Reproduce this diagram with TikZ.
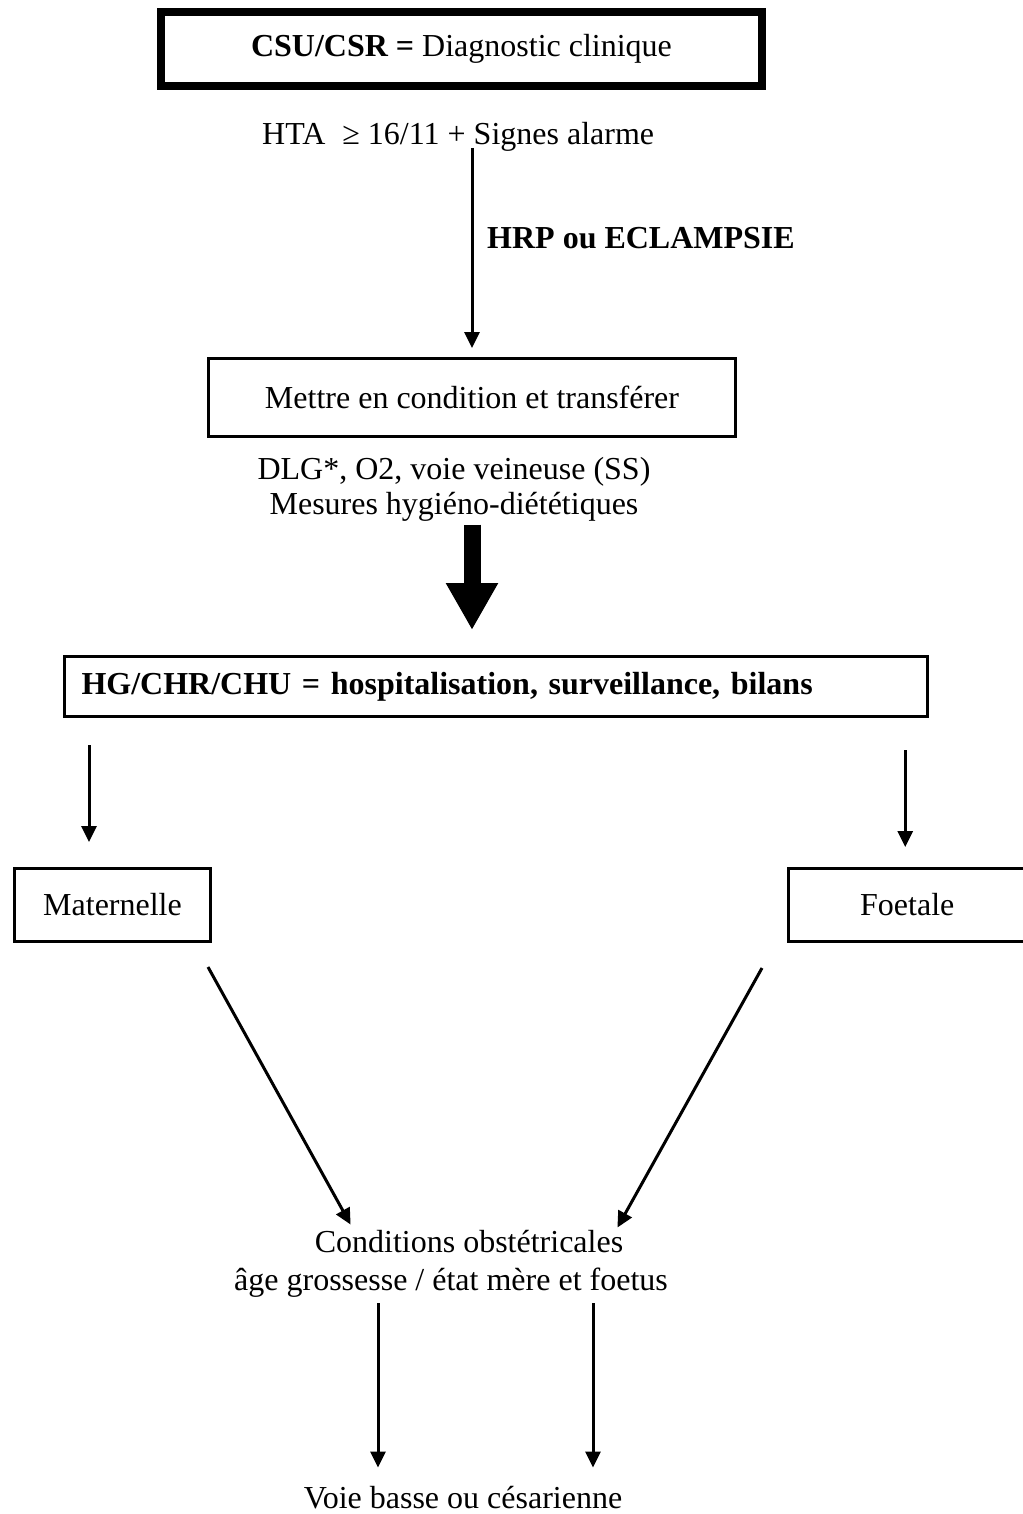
\documentclass[tikz,border=0pt]{standalone}
\usepackage{fontspec}
\setmainfont{Liberation Serif}
\usetikzlibrary{arrows.meta,calc}
\begin{document}
\begin{tikzpicture}[x=1pt,y=-1pt,
  every node/.style={font=\fontsize{32}{35}\selectfont, inner sep=0pt},
  thickbox/.style={draw, line width=8pt},
  box/.style={draw, line width=3pt},
  arr/.style={line width=3pt, -{Triangle[width=15pt,length=16pt]}},
  bigarr/.style={line width=17pt, -{Triangle[width=49pt,length=47pt]}},
]
\useasboundingbox (0,0) rectangle (1022,1514);

% --- boxes and text blocks ---
\node[thickbox, minimum width=601pt, minimum height=74pt] (top) at (461.5,49)
  {\textbf{CSU/CSR =} Diagnostic clinique};
\node[anchor=base west] (hta) at (262,145) {HTA\hspace{17pt}≥ 16/11 + Signes alarme};
\node[box, minimum width=527pt, minimum height=78pt] (box2) at (472,397.5)
  {Mettre en condition et transférer};
\node[anchor=north, align=center] (care) at (454,457)
  {DLG*, O2, voie veineuse (SS)\\Mesures hygiéno-diététiques};
\node[box, minimum height=60pt, text width=829pt, inner xsep=17pt, align=left]
  (box3) at (496,686.5)
  {\textbf{HG/CHR/CHU = hospitalisation, surveillance, bilans}};
\node[box, minimum width=196pt, minimum height=73pt] (mat) at (112.5,905) {Maternelle};
\node[box, minimum width=237.5pt, minimum height=73pt] (foet) at (907.25,905) {Foetale};
\node[anchor=base] (cond) at (469,1252) {Conditions obstétricales};
\node[anchor=base] (cond2) at (451,1290) {âge grossesse / état mère et foetus};
\node[anchor=base] (voie) at (463,1508) {Voie basse ou césarienne};

% --- connectors ---
\draw[arr] ($(hta.base -| box2.north)+(0,3)$) -- ($(box2.north)+(0,-9)$);
\node[anchor=base west] (hrp) at (487,248) {\textbf{HRP ou ECLAMPSIE}};
\draw[bigarr] ($(care.south -| box2.south)+(0,3)$) -- ($(box3.north -| box2.south)+(0,-25)$);
\draw[arr] ($(mat.north |- box3.south)+(-23.5,27)$) -- ($(mat.north)+(-23.5,-25)$);
\draw[arr] ($(foet.north |- box3.south)+(-2,32)$) -- ($(foet.north)+(-2,-20)$);
\draw[arr] ($(mat.south east)+(-4,24)$) -- ($(cond.north west)+(36,-5)$);
\draw[arr] ($(foet.south west)+(-25,25)$) -- ($(cond.north east)+(-6,-2)$);
\draw[arr] ($(cond2.south)+(-73,6)$) -- ($(voie.north -| cond2.south)+(-73,-18)$);
\draw[arr] ($(cond2.south)+(142,6)$) -- ($(voie.north -| cond2.south)+(142,-18)$);
\end{tikzpicture}
\end{document}
